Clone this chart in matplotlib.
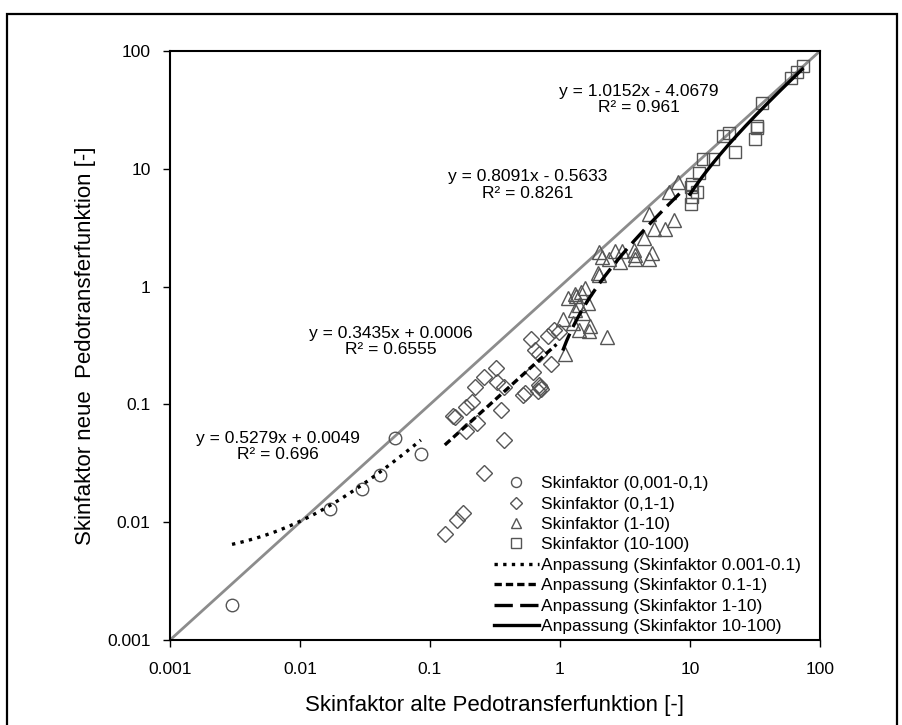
import matplotlib
matplotlib.use("Agg")
import matplotlib.pyplot as plt
from matplotlib.patches import Rectangle
import numpy as np

plt.rcParams["font.family"] = ["Liberation Sans", "DejaVu Sans"]

# Skinfaktor (0,001-0,1)
circ_x = [0.003, 0.017, 0.030, 0.041, 0.054, 0.085]
circ_y = [0.002, 0.013, 0.019, 0.025, 0.052, 0.038]

# Skinfaktor (0,1-1)
diam_x = [0.13, 0.16, 0.18, 0.26, 0.15, 0.155, 0.19, 0.23, 0.19, 0.21, 0.22, 0.26, 0.32, 0.33,
          0.37, 0.35, 0.37, 0.52, 0.54, 0.68, 0.70, 0.71, 0.69, 0.62, 0.85, 0.64, 0.69, 0.60,
          0.81, 0.90, 0.98]
diam_y = [0.008, 0.0105, 0.012, 0.026, 0.08, 0.078, 0.06, 0.07, 0.095, 0.105, 0.14, 0.17, 0.205, 0.155,
          0.14, 0.09, 0.05, 0.12, 0.125, 0.13, 0.14, 0.135, 0.145, 0.19, 0.22, 0.29, 0.27, 0.36,
          0.38, 0.43, 0.41]

# Skinfaktor (1-10)
tri_x = [1.1, 1.05, 1.25, 1.4, 1.7, 1.68, 1.15, 1.3, 1.55, 1.4, 1.5, 1.65, 1.3, 1.45, 1.33,
         2.3, 2.0, 1.95, 2.0, 2.1, 2.4, 2.65, 3.0, 2.9, 3.8, 3.7, 3.8, 4.8, 5.1, 4.4, 5.3,
         6.4, 7.5, 4.8, 6.9, 8.1]
tri_y = [0.27, 0.53, 0.49, 0.43, 0.46, 0.42, 0.8, 0.87, 0.97, 0.7, 0.6, 0.72, 0.63, 0.9, 0.84,
         0.37, 1.25, 1.3, 1.95, 1.8, 1.7, 2.0, 2.0, 1.63, 1.7, 2.05, 1.85, 1.72, 1.92, 2.6, 3.1,
         3.1, 3.7, 4.1, 6.4, 7.8]

# Skinfaktor (10-100)
sq_x = [74, 66, 60, 36, 33, 33, 31.5, 18, 20, 22, 12.5, 15, 11.7, 10.3, 11.3, 10.3, 10.2, 10.1]
sq_y = [74, 66, 59, 36, 23, 22, 18, 19, 20, 14, 12, 12, 9.2, 7.5, 6.3, 5.8, 5.0, 7.0]

# linear fits (as printed on the chart) and their x ranges
fit_slope = [0.5279, 0.3435, 0.8091, 1.0152]
fit_icpt = [0.0049, 0.0006, -0.5633, -4.0679]
fit_xmin = [0.003, 0.13, 1.05, 10]
fit_xmax = [0.085, 0.94, 8.3, 73]
fit_r2 = ["0.696", "0.6555", "0.8261", "0.961"]

ticks = [0.001, 0.01, 0.1, 1, 10, 100]
tick_labels = ["0.001", "0.01", "0.1", "1", "10", "100"]

fig = plt.figure(figsize=(9.03, 7.25), dpi=100)
ax = fig.add_axes([170 / 903, 1 - 640 / 725, 650 / 903, 589 / 725])

# outer frame
fig.patches.append(Rectangle((7 / 903, -0.05), 890 / 903, 1.05 - 14 / 725,
                             transform=fig.transFigure, fill=False, ec="black", lw=1.6))

ax.plot([0.001, 100], [0.001, 100], color="#8c8c8c", lw=2, zorder=1)

mk = dict(ls="none", mfc="none", mec="#555555", mew=1.0, zorder=3)
ax.plot(circ_x, circ_y, marker="o", ms=9, label="Skinfaktor (0,001-0,1)", **mk)
ax.plot(diam_x, diam_y, marker="D", ms=8, label="Skinfaktor (0,1-1)", **mk)
ax.plot(tri_x, tri_y, marker="^", ms=9.5, label="Skinfaktor (1-10)", **mk)
ax.plot(sq_x, sq_y, marker="s", ms=9, label="Skinfaktor (10-100)", **mk)

styles = [(0, (1, 1.6)), (0, (2.2, 1.2)), (0, (5.5, 2.2)), "-"]
names = ["Anpassung (Skinfaktor 0.001-0.1)", "Anpassung (Skinfaktor 0.1-1)",
         "Anpassung (Skinfaktor 1-10)", "Anpassung (Skinfaktor 10-100)"]
for i in range(4):
    xs = np.linspace(fit_xmin[i], fit_xmax[i], 200)
    ax.plot(xs, fit_slope[i] * xs + fit_icpt[i], color="black", lw=2.4,
            ls=styles[i], label=names[i], zorder=4)

# equation labels
eq_pos = [(0.1655, 0.329), (0.34, 0.507), (0.551, 0.7725), (0.721, 0.917)]
for i in range(4):
    sign = "+" if fit_icpt[i] >= 0 else "-"
    txt = "y = %.4fx %s %.4f\nR² = %s" % (fit_slope[i], sign, abs(fit_icpt[i]), fit_r2[i])
    ax.text(eq_pos[i][0], eq_pos[i][1], txt, transform=ax.transAxes, ha="center",
            va="center", multialignment="center", fontsize=12.5, linespacing=1.1)

ax.set_xscale("log")
ax.set_yscale("log")
ax.set_xlim(0.001, 100)
ax.set_ylim(0.001, 100)
ax.set_xticks(ticks)
ax.set_xticklabels(tick_labels)
ax.set_yticks(ticks)
ax.set_yticklabels(tick_labels)
ax.minorticks_off()
ax.tick_params(labelsize=12.5, length=5, width=1, direction="out")
ax.tick_params(axis="x", pad=11)
ax.tick_params(axis="y", pad=9)
for s in ax.spines.values():
    s.set_linewidth(1.5)

ax.set_xlabel("Skinfaktor alte Pedotransferfunktion [-]", fontsize=16, labelpad=13)
ax.set_ylabel("Skinfaktor neue  Pedotransferfunktion [-]", fontsize=16, labelpad=8)

ax.legend(loc="upper left", bbox_to_anchor=(0.498, 0.278), frameon=False, fontsize=12.5,
          borderpad=0, borderaxespad=0, handlelength=2.6, handletextpad=0.15,
          labelspacing=0.3, markerscale=0.8)

fig.savefig("out.png", dpi=100)
